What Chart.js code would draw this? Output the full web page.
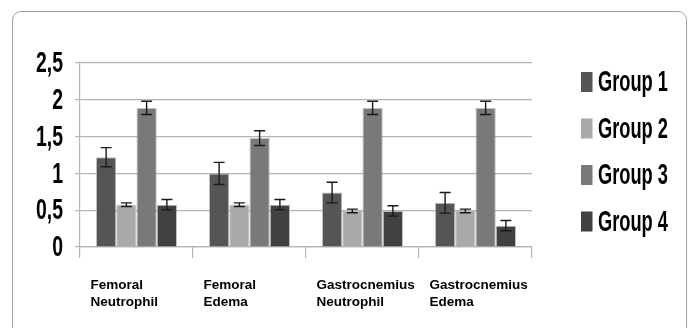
<!DOCTYPE html>
<html>
<head>
<meta charset="utf-8">
<script src="https://cdn.jsdelivr.net/npm/chart.js@4"></script>
<style>
  html, body { margin: 0; padding: 0; background: #fff; }
  body { width: 695px; height: 328px; position: relative; overflow: hidden; }
  #frame {
    position: absolute; left: 12px; top: 11px; width: 675px; height: 340px;
    border: 1.5px solid #a3a3a3; border-radius: 9px; box-sizing: border-box;
  }
  #wrap { position: absolute; left: 0; top: 0; width: 695px; height: 328px; }
</style>
</head>
<body>
<div id="frame"></div>
<div id="wrap"><canvas id="c" width="695" height="328"></canvas></div>
<script>
// Categories (x axis, two-line labels)
const categories = [
  ["Femoral", "Neutrophil"],
  ["Femoral", "Edema"],
  ["Gastrocnemius", "Neutrophil"],
  ["Gastrocnemius", "Edema"]
];

// Series names
const seriesNames = ["Group 1", "Group 2", "Group 3", "Group 4"];

// Mean values per group
const group1 = [1.22, 1.00, 0.74, 0.60];
const group2 = [0.575, 0.575, 0.49, 0.49];
const group3 = [1.89, 1.48, 1.89, 1.89];
const group4 = [0.575, 0.575, 0.49, 0.29];

// Error bar half-widths per group
const err1 = [0.13, 0.15, 0.14, 0.14];
const err2 = [0.025, 0.025, 0.025, 0.025];
const err3 = [0.09, 0.10, 0.09, 0.09];
const err4 = [0.07, 0.07, 0.07, 0.07];

// Y axis tick labels (decimal comma)
const yTickLabels = ["0", "0,5", "1", "1,5", "2", "2,5"];

const colors = ["#555555", "#a9a9a9", "#797979", "#414141"];
const values = [group1, group2, group3, group4];
const errors = [err1, err2, err3, err4];

const CONDENSED = "'Liberation Sans Narrow', 'Liberation Sans', sans-serif";

// Error bars with caps
const errorBars = {
  id: 'errorBars',
  afterDatasetsDraw(chart) {
    const ctx = chart.ctx;
    const y = chart.scales.y;
    ctx.save();
    ctx.strokeStyle = '#1a1a1a';
    ctx.lineWidth = 1.4;
    chart.data.datasets.forEach((ds, di) => {
      const meta = chart.getDatasetMeta(di);
      meta.data.forEach((bar, i) => {
        const v = ds.data[i], e = errors[di][i];
        const top = y.getPixelForValue(v + e);
        const bot = y.getPixelForValue(v - e);
        const x = bar.x, cap = 5.5;
        ctx.beginPath();
        ctx.moveTo(x, top); ctx.lineTo(x, bot);
        ctx.moveTo(x - cap, top); ctx.lineTo(x + cap, top);
        ctx.moveTo(x - cap, bot); ctx.lineTo(x + cap, bot);
        ctx.stroke();
      });
    });
    ctx.restore();
  }
};

// Condensed y tick labels and legend
const condensedText = {
  id: 'condensedText',
  afterDraw(chart) {
    const ctx = chart.ctx;
    const y = chart.scales.y;
    ctx.save();
    ctx.fillStyle = '#000';
    ctx.font = "bold 30px " + CONDENSED;
    ctx.textAlign = 'right';
    ctx.textBaseline = 'middle';
    // horizontal squeeze so "2,5" spans about 27px
    const sy = 27 / ctx.measureText("2,5").width;
    y.ticks.forEach((t, i) => {
      const py = y.getPixelForValue(t.value);
      ctx.save();
      ctx.translate(63, py + 1);
      ctx.scale(sy, 1);
      ctx.fillText(yTickLabels[i], 0, 0);
      ctx.restore();
    });

    // legend
    const legendY = [82, 128.5, 175, 221.5];
    ctx.textAlign = 'left';
    const sl = 70 / ctx.measureText("Group 1").width;
    chart.data.datasets.forEach((ds, i) => {
      const cy = legendY[i];
      ctx.fillStyle = ds.backgroundColor;
      ctx.fillRect(581, cy - 10, 11.5, 20);
      ctx.fillStyle = '#000';
      ctx.save();
      ctx.translate(598, cy + 1);
      ctx.scale(sl, 1);
      ctx.fillText(ds.label, 0, 0);
      ctx.restore();
    });
    ctx.restore();
  }
};

new Chart(document.getElementById('c'), {
  type: 'bar',
  data: {
    labels: categories,
    datasets: seriesNames.map((name, i) => ({
      label: name,
      data: values[i],
      backgroundColor: colors[i],
      borderColor: 'rgba(150,150,150,0.6)',
      borderWidth: 1,
      categoryPercentage: 0.717,
      barPercentage: 1.0
    }))
  },
  options: {
    responsive: false,
    animation: false,
    layout: { padding: { left: 0, right: 163, top: 63, bottom: 0 } },
    plugins: { legend: { display: false }, tooltip: { enabled: false } },
    scales: {
      x: {
        grid: {
          offset: true,
          drawOnChartArea: false,
          drawTicks: true,
          tickLength: 11,
          color: '#b5b5b5',
          lineWidth: 1.2
        },
        border: { display: true, color: '#b5b5b5', width: 1.2 },
        ticks: {
          align: 'start',
          labelOffset: -46,
          padding: 19,
          color: '#000',
          font: { family: "'Liberation Sans', Arial, sans-serif", size: 13.5, weight: 'bold', lineHeight: 1.25 },
          maxRotation: 0,
          autoSkip: false
        },
        afterFit(scale) { scale.height = 81; }
      },
      y: {
        min: 0,
        max: 2.5,
        ticks: { stepSize: 0.5, display: false },
        grid: {
          color: '#b5b5b5',
          lineWidth: 1.2,
          drawTicks: true,
          tickLength: 5
        },
        border: { display: true, color: '#b5b5b5', width: 1.2 },
        afterFit(scale) { scale.width = 80; }
      }
    }
  },
  plugins: [errorBars, condensedText]
});
</script>
</body>
</html>
